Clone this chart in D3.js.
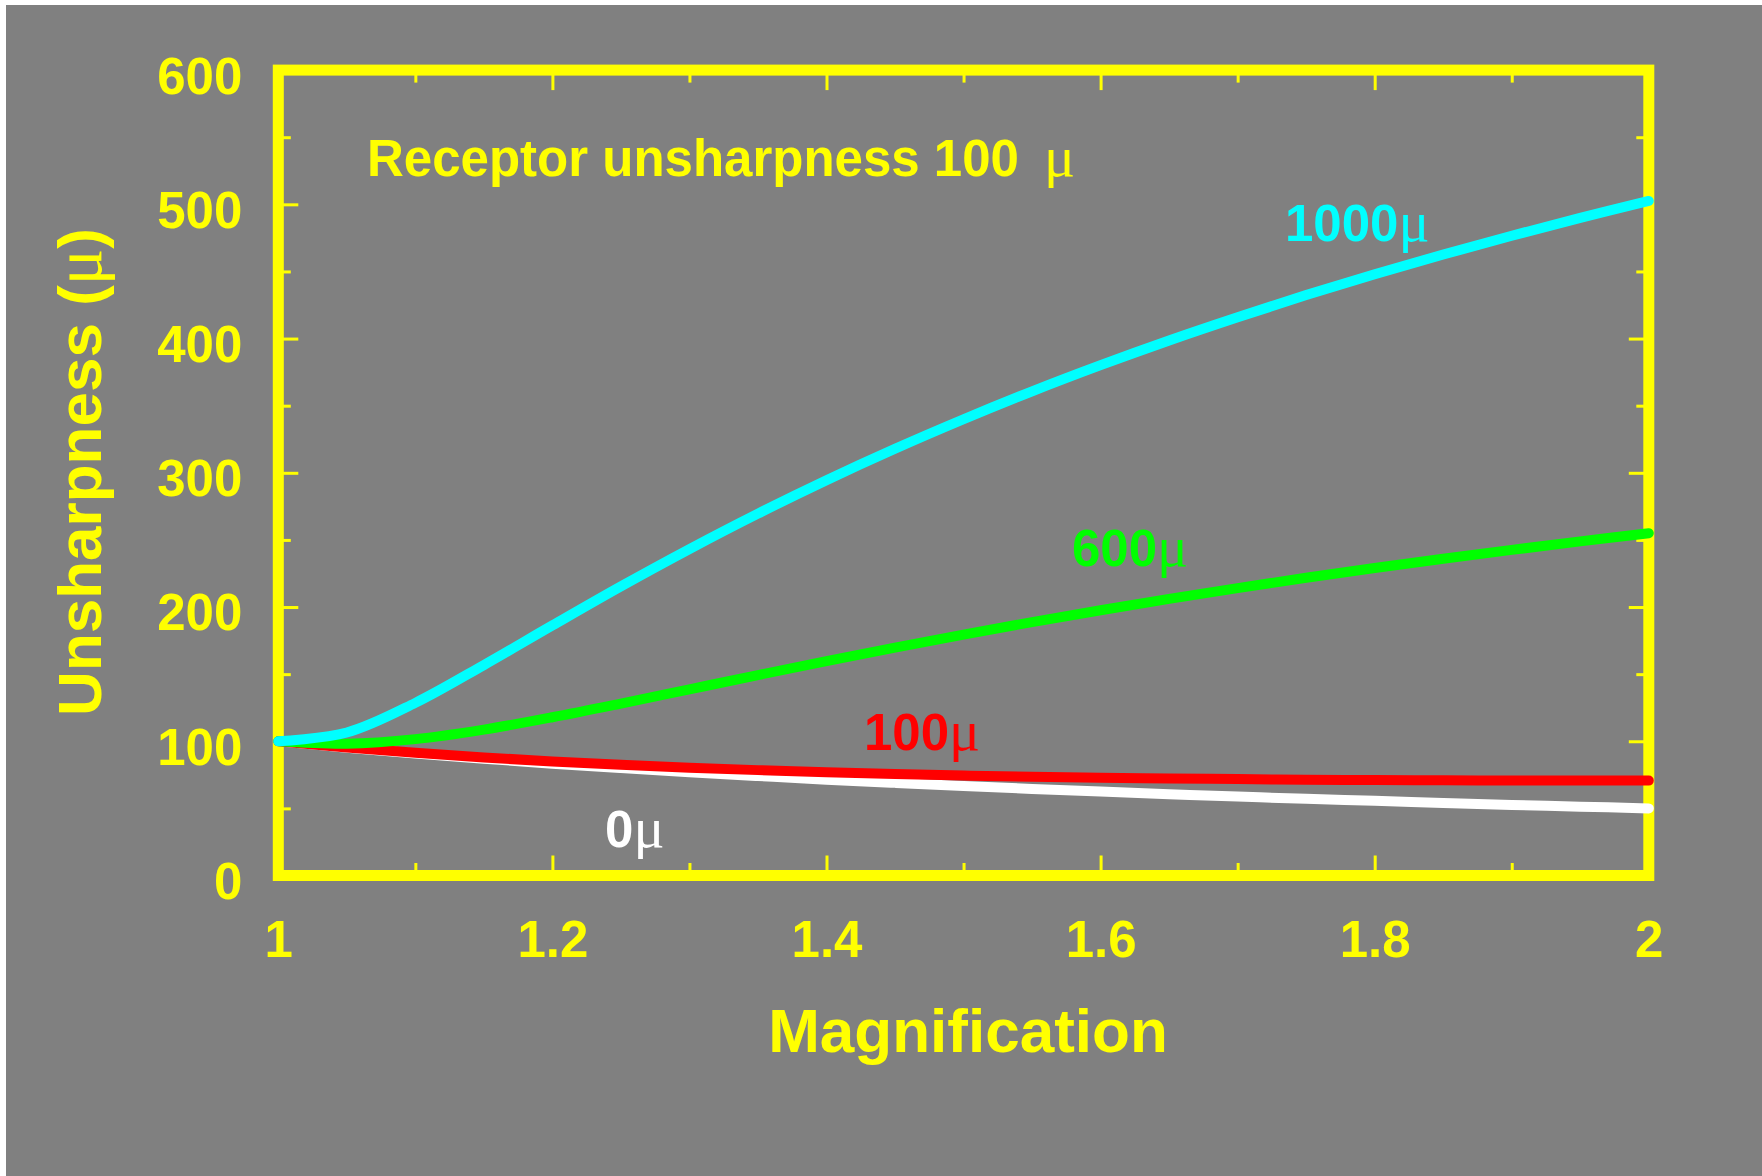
<!DOCTYPE html>
<html>
<head>
<meta charset="utf-8">
<script src="https://cdn.jsdelivr.net/npm/d3@7"></script>
<style>
  html, body { margin: 0; padding: 0; background: #ffffff; }
  svg { display: block; }
</style>
</head>
<body>
<svg id="chart" width="1762" height="1176"></svg>
<script>
// ---- Data ----
const magnification = [1.00, 1.05, 1.10, 1.15, 1.20, 1.25, 1.30, 1.35, 1.40, 1.45, 1.50,
                       1.55, 1.60, 1.65, 1.70, 1.75, 1.80, 1.85, 1.90, 1.95, 2.00];
const focal0 = [100, 95.2, 90.9, 87.0, 83.3, 80.0, 76.9, 74.1, 71.4, 69.0, 66.7,
                64.5, 62.5, 60.6, 58.8, 57.1, 55.6, 54.1, 52.6, 51.3, 50.0];
const focal100 = [100, 95.4, 91.4, 87.9, 85.0, 82.5, 80.3, 78.5, 76.9, 75.6, 74.5,
                  73.6, 72.9, 72.3, 71.8, 71.4, 71.1, 70.9, 70.8, 70.7, 70.7];
const focal600 = [100, 98.2, 101.6, 108.7, 117.9, 128.1, 138.7, 149.3, 159.7, 169.8, 179.5,
                  188.8, 197.6, 206.1, 214.1, 221.8, 229.1, 236.0, 242.6, 248.9, 255.0];
const focal1000 = [100, 106.5, 128.6, 156.8, 186.3, 215.4, 243.2, 269.6, 294.5, 317.9, 339.9,
                   360.7, 380.2, 398.6, 415.9, 432.4, 447.9, 462.6, 476.6, 489.9, 502.5];
const seriesNames = ["0", "100", "600", "1000"];
const seriesColors = ["#ffffff", "#ff0000", "#00ff00", "#00ffff"];
const xTickValues = [1, 1.2, 1.4, 1.6, 1.8, 2];
const xTickLabels = ["1", "1.2", "1.4", "1.6", "1.8", "2"];
const xMinorTicks = [1.1, 1.3, 1.5, 1.7, 1.9];
const yTickValues = [0, 100, 200, 300, 400, 500, 600];
const yTickLabels = ["0", "100", "200", "300", "400", "500", "600"];
const yMinorTicks = [50, 150, 250, 350, 450, 550];
const titleText = "Receptor unsharpness 100";
const xTitle = "Magnification";
const yTitle = "Unsharpness (";

// ---- Layout ----
const YELLOW = "#ffff00";
const BG = "#808080";
const SANS = "'Liberation Sans', Arial, Helvetica, sans-serif";
const SERIF = "'Liberation Serif', 'Times New Roman', serif";
const pL = 278.3, pR = 1648.8, pT = 70.1, pB = 875.5;

const svg = d3.select("#chart");
svg.append("rect").attr("x", 6).attr("y", 5).attr("width", 1756).attr("height", 1171).attr("fill", BG);

const x = d3.scaleLinear().domain([1, 2]).range([pL, pR]);
const y = d3.scaleLinear().domain([0, 600]).range([pB, pT]);

function styleAxis(g) {
  g.select(".domain").remove();
  g.selectAll(".tick line").attr("stroke", YELLOW).attr("stroke-width", 3);
  g.selectAll(".tick text").attr("fill", YELLOW)
    .style("font-family", SANS).style("font-weight", "bold").style("font-size", "51px");
}

// Major ticks with labels
const gxB = svg.append("g").attr("transform", `translate(0,${pB})`)
  .call(d3.axisBottom(x).tickValues(xTickValues).tickFormat((d, i) => xTickLabels[i])
    .tickSizeInner(-20).tickSizeOuter(0).tickPadding(45));
styleAxis(gxB);
const gyL = svg.append("g").attr("transform", `translate(${pL},0)`)
  .call(d3.axisLeft(y).tickValues(yTickValues).tickFormat((d, i) => yTickLabels[i])
    .tickSizeInner(-20).tickSizeOuter(0).tickPadding(36));
styleAxis(gyL);
gyL.selectAll(".tick text").attr("dy", "0.45em");

// Major ticks top/right (no labels)
const gxT = svg.append("g").attr("transform", `translate(0,${pT})`)
  .call(d3.axisTop(x).tickValues(xTickValues).tickFormat("").tickSizeInner(-20).tickSizeOuter(0));
styleAxis(gxT);
const gyR = svg.append("g").attr("transform", `translate(${pR},0)`)
  .call(d3.axisRight(y).tickValues(yTickValues).tickFormat("").tickSizeInner(-20).tickSizeOuter(0));
styleAxis(gyR);

// Minor ticks on all sides
[[d3.axisBottom, pB, x, xMinorTicks, true], [d3.axisTop, pT, x, xMinorTicks, true],
 [d3.axisLeft, pL, y, yMinorTicks, false], [d3.axisRight, pR, y, yMinorTicks, false]]
  .forEach(([axisFn, pos, sc, vals, horiz]) => {
    const g = svg.append("g")
      .attr("transform", horiz ? `translate(0,${pos})` : `translate(${pos},0)`)
      .call(axisFn(sc).tickValues(vals).tickFormat("").tickSizeInner(-12.5).tickSizeOuter(0));
    styleAxis(g);
  });

// Frame (drawn under the curves)
svg.append("rect").attr("x", pL).attr("y", pT)
  .attr("width", pR - pL).attr("height", pB - pT)
  .attr("fill", "none").attr("stroke", YELLOW).attr("stroke-width", 11);

// Curves
const allSeries = [focal0, focal100, focal600, focal1000];
const line = d3.line().x((d, i) => x(magnification[i])).y(d => y(d)).curve(d3.curveCatmullRom.alpha(0.5));
allSeries.forEach((vals, k) => {
  svg.append("path").datum(vals).attr("d", line)
    .attr("fill", "none").attr("stroke", seriesColors[k]).attr("stroke-width", 10)
    .attr("stroke-linecap", "round").attr("stroke-linejoin", "round");
});

// Curve labels
const labelPos = [[605, 847], [864, 750], [1072, 566], [1285, 241]];
seriesNames.forEach((name, k) => {
  const t = svg.append("text").attr("x", labelPos[k][0]).attr("y", labelPos[k][1])
    .attr("fill", seriesColors[k]).style("font-family", SANS).style("font-weight", "bold")
    .style("font-size", "51px");
  t.append("tspan").text(name);
  t.append("tspan").style("font-family", SERIF).style("font-weight", "normal")
    .style("font-size", "58px").text("\u03bc");
});

// Inner title
svg.append("text").attr("x", 367).attr("y", 176).attr("fill", YELLOW)
  .style("font-family", SANS).style("font-weight", "bold").style("font-size", "51px")
  .text(titleText);
svg.append("text").attr("x", 1044).attr("y", 176).attr("fill", YELLOW)
  .style("font-family", SERIF).style("font-size", "58px").text("\u03bc");

// Axis titles
svg.append("text").attr("x", 968).attr("y", 1052).attr("text-anchor", "middle").attr("fill", YELLOW)
  .style("font-family", SANS).style("font-weight", "bold").style("font-size", "62px").text(xTitle);

const yt = svg.append("text").attr("transform", "translate(101,472) rotate(-90)")
  .attr("text-anchor", "middle").attr("fill", YELLOW)
  .style("font-family", SANS).style("font-weight", "bold").style("font-size", "62px");
yt.append("tspan").text(yTitle);
yt.append("tspan").style("font-family", SERIF).style("font-weight", "normal").style("font-size", "68px").text("\u03bc");
yt.append("tspan").text(")");
</script>
</body>
</html>
